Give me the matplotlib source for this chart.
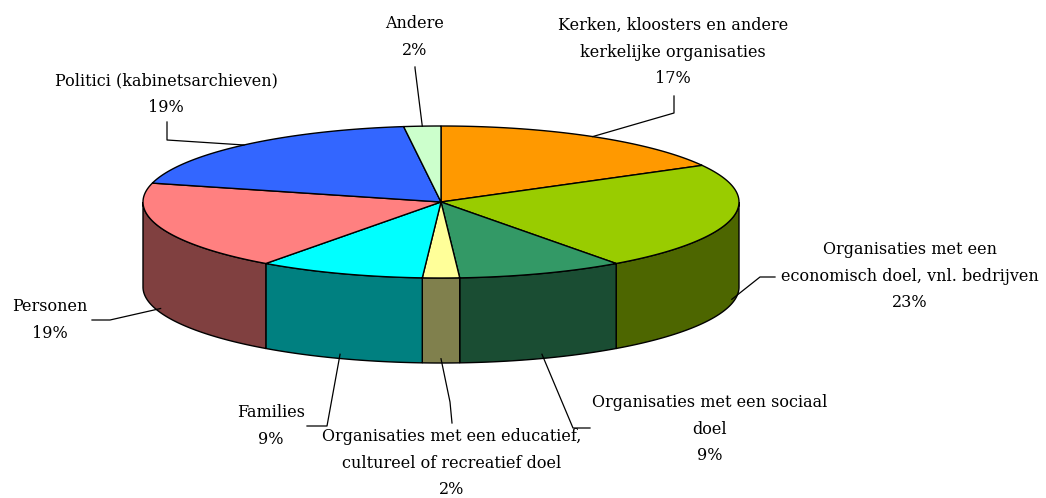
import numpy as np
import matplotlib
matplotlib.use("Agg")
import matplotlib.pyplot as plt
from matplotlib.patches import Polygon
from matplotlib.colors import to_rgb

# ---- data ----
categories = [
    "Kerken, kloosters en andere\nkerkelijke organisaties",
    "Organisaties met een\neconomisch doel, vnl. bedrijven",
    "Organisaties met een sociaal\ndoel",
    "Organisaties met een educatief,\ncultureel of recreatief doel",
    "Families",
    "Personen",
    "Politici (kabinetsarchieven)",
    "Andere",
]
values = [17, 23, 9, 2, 9, 19, 19, 2]
top_colors = ["#FF9900", "#99CC00", "#339966", "#FFFF99",
              "#00FFFF", "#FF8080", "#3366FF", "#CCFFCC"]

# ---- layout (pixel coordinates) ----
W, H = 1046, 498
cx, cy = 441, 202          # centre of top ellipse
rx, ry = 298, 76           # radii of top ellipse
depth = 85                 # thickness of the pie
label_pos = [(673, 52), (910, 276), (710, 429), (452, 463),
             (271, 426), (50, 320), (166, 94), (415, 37)]
leader_start = [(674, 96), (775, 277), (590, 428), (452, 423),
                (307, 426), (92, 320), (167, 122), (415, 67)]
leader_elbow = [(674, 113), (760, 277), (573, 428), (450, 402),
                (327, 426), (110, 320), (167, 140), (415, 68)]

fig = plt.figure(figsize=(W / 100, H / 100), dpi=100)
ax = fig.add_axes([0, 0, 1, 1])
ax.set_xlim(0, W)
ax.set_ylim(H, 0)
ax.axis("off")


def pt(theta, dz=0.0):
    return cx + rx * np.cos(theta), cy - ry * np.sin(theta) + dz


total = float(sum(values))
starts = []
a = np.pi / 2
for v in values:
    starts.append(a)
    a -= 2 * np.pi * v / total

# side walls (front half)
for i, v in enumerate(values):
    a1 = starts[i]
    a2 = a1 - 2 * np.pi * v / total
    th = np.linspace(a1, a2, 400)
    mask = np.sin(th) <= 1e-9
    if mask.sum() < 2:
        continue
    t = th[mask]
    xt, yt = pt(t)
    xb, yb = pt(t, depth)
    poly = np.column_stack([np.concatenate([xt, xb[::-1]]),
                            np.concatenate([yt, yb[::-1]])])
    side = tuple(c * 0.5 for c in to_rgb(top_colors[i]))
    ax.add_patch(Polygon(poly, closed=True, facecolor=side,
                         edgecolor="black", linewidth=1.0, zorder=2))

# top wedges
for i, v in enumerate(values):
    a1 = starts[i]
    a2 = a1 - 2 * np.pi * v / total
    th = np.linspace(a1, a2, 200)
    xs, ys = pt(th)
    poly = np.column_stack([np.concatenate([[cx], xs]),
                            np.concatenate([[cy], ys])])
    ax.add_patch(Polygon(poly, closed=True, facecolor=top_colors[i],
                         edgecolor="black", linewidth=1.0, zorder=3))

# labels and leader lines
for i, v in enumerate(values):
    a1 = starts[i]
    mid = a1 - np.pi * v / total
    if np.sin(mid) < 0:
        ax_, ay_ = pt(mid, depth * 0.95)
    else:
        ax_, ay_ = pt(mid)
    sx, sy = leader_start[i]
    ex, ey = leader_elbow[i]
    ax.plot([sx, ex, ax_], [sy, ey, ay_], color="black", lw=0.9, zorder=4)
    lx, ly = label_pos[i]
    ax.text(lx, ly, f"{categories[i]}\n{v}%", ha="center", va="center",
            fontsize=11.5, family="DejaVu Serif", linespacing=1.73,
            color="black", zorder=5)

fig.savefig("out.png", dpi=100, facecolor="white")
